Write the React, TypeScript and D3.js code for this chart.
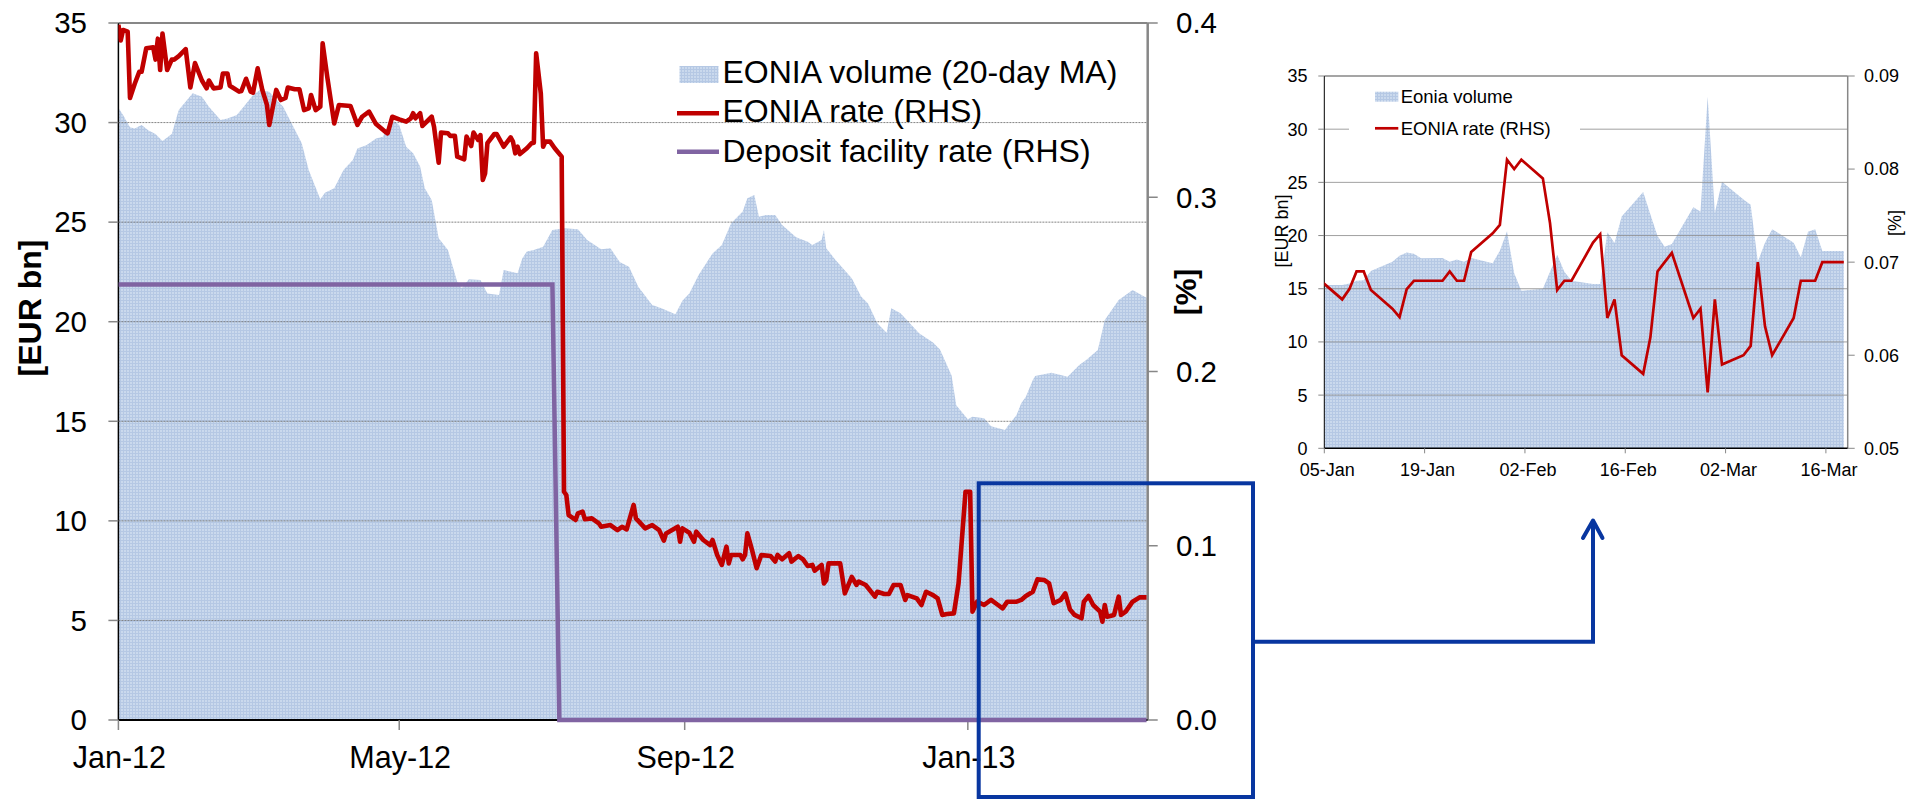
import React from "react";
import * as d3 from "d3";

// ---------- Main chart data ----------
const volumeMA: [string, number][] = [
  ["2012-01-01",30.75],["2012-01-03",30.38],["2012-01-06",29.76],["2012-01-08",29.7],["2012-01-11",29.88],["2012-01-14",29.6],["2012-01-17",29.43],["2012-01-20",29.07],["2012-01-24",29.43],["2012-01-27",30.63],["2012-02-02",31.47],["2012-02-06",31.3],["2012-02-09",30.8],["2012-02-14",30.13],["2012-02-17",30.2],["2012-02-21",30.38],["2012-02-24",30.8],["2012-02-28",31.38],["2012-03-02",31.64],["2012-03-06",31.55],["2012-03-12",30.8],["2012-03-16",29.88],["2012-03-20",28.96],["2012-03-23",27.62],["2012-03-28",26.15],["2012-03-30",26.48],["2012-04-03",26.7],["2012-04-07",27.62],["2012-04-11",28.12],["2012-04-13",28.7],["2012-04-17",28.87],["2012-04-21",29.2],["2012-04-24",29.29],["2012-04-26",29.8],["2012-04-29",30.05],["2012-05-01",29.88],["2012-05-04",28.79],["2012-05-07",28.46],["2012-05-10",27.79],["2012-05-12",26.7],["2012-05-15",26.11],["2012-05-18",24.19],["2012-05-22",23.6],["2012-05-26",22.0],["2012-05-28",21.68],["2012-05-31",22.13],["2012-06-05",22.1],["2012-06-08",21.42],["2012-06-13",21.34],["2012-06-15",22.6],["2012-06-21",22.43],["2012-06-23",23.18],["2012-06-25",23.52],["2012-06-28",23.6],["2012-07-02",23.77],["2012-07-06",24.6],["2012-07-11",24.69],["2012-07-17",24.64],["2012-07-21",24.1],["2012-07-27",23.64],["2012-07-31",23.69],["2012-08-04",23.0],["2012-08-08",22.76],["2012-08-12",21.76],["2012-08-18",20.84],["2012-08-22",20.67],["2012-08-28",20.37],["2012-08-31",21.05],["2012-09-03",21.42],["2012-09-07",22.35],["2012-09-13",23.43],["2012-09-17",23.85],["2012-09-21",24.94],["2012-09-26",25.53],["2012-09-28",26.2],["2012-10-01",26.36],["2012-10-03",25.27],["2012-10-06",25.36],["2012-10-10",25.36],["2012-10-13",24.86],["2012-10-19",24.24],["2012-10-24",24.02],["2012-10-26",23.85],["2012-10-30",24.1],["2012-10-31",24.6],["2012-11-01",23.69],["2012-11-05",23.1],["2012-11-12",22.18],["2012-11-16",21.26],["2012-11-19",20.92],["2012-11-23",19.92],["2012-11-27",19.45],["2012-11-29",20.67],["2012-12-03",20.42],["2012-12-07",19.92],["2012-12-11",19.42],["2012-12-17",18.95],["2012-12-20",18.6],["2012-12-25",17.3],["2012-12-27",15.8],["2013-01-01",15.1],["2013-01-03",15.23],["2013-01-08",15.15],["2013-01-11",14.75],["2013-01-17",14.56],["2013-01-18",14.73],["2013-01-22",15.32],["2013-01-24",15.9],["2013-01-26",16.23],["2013-01-29",17.07],["2013-01-30",17.27],["2013-02-06",17.44],["2013-02-10",17.32],["2013-02-13",17.24],["2013-02-18",17.83],["2013-02-21",18.08],["2013-02-26",18.58],["2013-03-01",20.09],["2013-03-04",20.59],["2013-03-07",21.09],["2013-03-13",21.59],["2013-03-18",21.26],["2013-03-19",21.2]
];

const eoniaRate: [string, number][] = [
  ["2012-01-01",0.399],["2012-01-02",0.390],["2012-01-03",0.396],["2012-01-05",0.395],["2012-01-06",0.357],["2012-01-08",0.365],["2012-01-10",0.372],["2012-01-11",0.372],["2012-01-13",0.3855],["2012-01-16",0.386],["2012-01-17",0.379],["2012-01-18",0.391],["2012-01-19",0.373],["2012-01-20",0.394],["2012-01-22",0.373],["2012-01-24",0.379],["2012-01-25",0.379],["2012-01-27",0.381],["2012-01-30",0.385],["2012-02-01",0.363],["2012-02-03",0.377],["2012-02-06",0.367],["2012-02-08",0.3625],["2012-02-09",0.367],["2012-02-11",0.3625],["2012-02-14",0.363],["2012-02-15",0.371],["2012-02-17",0.371],["2012-02-18",0.364],["2012-02-22",0.3606],["2012-02-23",0.361],["2012-02-25",0.368],["2012-02-27",0.3606],["2012-02-28",0.360],["2012-03-01",0.374],["2012-03-03",0.3616],["2012-03-05",0.353],["2012-03-06",0.3415],["2012-03-09",0.3616],["2012-03-11",0.3558],["2012-03-13",0.357],["2012-03-14",0.363],["2012-03-17",0.362],["2012-03-19",0.362],["2012-03-21",0.350],["2012-03-23",0.351],["2012-03-24",0.3587],["2012-03-26",0.350],["2012-03-28",0.352],["2012-03-29",0.3883],["2012-03-31",0.369],["2012-04-03",0.3424],["2012-04-05",0.3529],["2012-04-10",0.3524],["2012-04-13",0.3415],["2012-04-15",0.3462],["2012-04-18",0.3491],["2012-04-21",0.342],["2012-04-25",0.3376],["2012-04-26",0.3367],["2012-04-28",0.3462],["2012-05-01",0.3447],["2012-05-04",0.3434],["2012-05-06",0.3453],["2012-05-07",0.3482],["2012-05-08",0.3453],["2012-05-10",0.3482],["2012-05-11",0.3409],["2012-05-15",0.3462],["2012-05-16",0.3405],["2012-05-18",0.3198],["2012-05-19",0.3371],["2012-05-22",0.3367],["2012-05-23",0.3352],["2012-05-25",0.3352],["2012-05-26",0.3233],["2012-05-29",0.3218],["2012-05-30",0.3348],["2012-06-01",0.3294],["2012-06-02",0.3371],["2012-06-04",0.3329],["2012-06-05",0.3357],["2012-06-06",0.3099],["2012-06-07",0.3137],["2012-06-08",0.331],["2012-06-11",0.3363],["2012-06-12",0.3363],["2012-06-15",0.329],["2012-06-18",0.3344],["2012-06-19",0.3319],["2012-06-20",0.3252],["2012-06-21",0.329],["2012-06-22",0.3248],["2012-06-25",0.3281],["2012-06-27",0.331],["2012-06-28",0.3313],["2012-06-29",0.3826],["2012-07-01",0.3596],["2012-07-02",0.329],["2012-07-03",0.3319],["2012-07-05",0.3319],["2012-07-07",0.3281],["2012-07-10",0.3233],["2012-07-11",0.131],["2012-07-12",0.1291],["2012-07-13",0.1176],["2012-07-16",0.1148],["2012-07-17",0.1186],["2012-07-19",0.1196],["2012-07-20",0.1152],["2012-07-23",0.1157],["2012-07-26",0.1129],["2012-07-27",0.1109],["2012-07-31",0.1119],["2012-08-03",0.109],["2012-08-05",0.1109],["2012-08-07",0.1094],["2012-08-10",0.1234],["2012-08-11",0.1157],["2012-08-15",0.110],["2012-08-18",0.1119],["2012-08-21",0.109],["2012-08-23",0.1029],["2012-08-24",0.1071],["2012-08-29",0.1109],["2012-08-30",0.1023],["2012-08-31",0.110],["2012-09-03",0.1075],["2012-09-05",0.1023],["2012-09-06",0.1081],["2012-09-09",0.1033],["2012-09-12",0.1004],["2012-09-13",0.1033],["2012-09-15",0.0947],["2012-09-17",0.089],["2012-09-19",0.0995],["2012-09-20",0.0899],["2012-09-21",0.0947],["2012-09-25",0.0947],["2012-09-26",0.0922],["2012-09-27",0.0947],["2012-09-28",0.1071],["2012-09-30",0.0976],["2012-10-02",0.0871],["2012-10-04",0.0947],["2012-10-08",0.0941],["2012-10-10",0.0909],["2012-10-11",0.0947],["2012-10-13",0.0922],["2012-10-16",0.0957],["2012-10-17",0.0909],["2012-10-20",0.0941],["2012-10-22",0.0922],["2012-10-24",0.0884],["2012-10-26",0.089],["2012-10-27",0.0857],["2012-10-30",0.089],["2012-10-31",0.0784],["2012-11-01",0.0803],["2012-11-02",0.0899],["2012-11-05",0.0899],["2012-11-07",0.0899],["2012-11-09",0.0727],["2012-11-12",0.0822],["2012-11-14",0.0775],["2012-11-15",0.0794],["2012-11-18",0.0775],["2012-11-22",0.0708],["2012-11-23",0.0736],["2012-11-26",0.0723],["2012-11-28",0.0723],["2012-11-30",0.0775],["2012-12-03",0.0775],["2012-12-05",0.0689],["2012-12-06",0.0717],["2012-12-10",0.0698],["2012-12-12",0.066],["2012-12-14",0.0736],["2012-12-17",0.0717],["2012-12-19",0.0698],["2012-12-21",0.0603],["2012-12-23",0.0608],["2012-12-26",0.0612],["2012-12-28",0.0784],["2012-12-31",0.131],["2013-01-02",0.131],["2013-01-03",0.0622],["2013-01-05",0.0679],["2013-01-08",0.066],["2013-01-11",0.0689],["2013-01-14",0.066],["2013-01-16",0.0641],["2013-01-18",0.0679],["2013-01-22",0.0679],["2013-01-24",0.0689],["2013-01-26",0.0712],["2013-01-29",0.0736],["2013-01-31",0.0807],["2013-02-03",0.0803],["2013-02-05",0.0784],["2013-02-07",0.067],["2013-02-10",0.0689],["2013-02-12",0.0727],["2013-02-14",0.0635],["2013-02-16",0.0603],["2013-02-19",0.0584],["2013-02-20",0.0679],["2013-02-22",0.0712],["2013-02-24",0.066],["2013-02-27",0.0622],["2013-02-28",0.0564],["2013-03-01",0.066],["2013-03-02",0.0593],["2013-03-05",0.0603],["2013-03-07",0.0708],["2013-03-08",0.0603],["2013-03-10",0.0622],["2013-03-13",0.0679],["2013-03-16",0.0704],["2013-03-19",0.0704]
];

const depositRate: [string, number][] = [
  ["2012-01-01",0.25],["2012-07-06",0.25],["2012-07-09",0],["2013-03-19",0]
];

const leftTicks = [0, 5, 10, 15, 20, 25, 30, 35];
const rightTicks = [0, 0.1, 0.2, 0.3, 0.4];
const xTickDates = ["2012-01-01", "2012-05-01", "2012-09-01", "2013-01-01"];
const xTickLabels = ["Jan-12", "May-12", "Sep-12", "Jan-13"];
const legendLabels = ["EONIA volume (20-day MA)", "EONIA rate (RHS)", "Deposit facility rate (RHS)"];

// ---------- Inset data ----------
const insetDates = ["2013-01-04","2013-01-07","2013-01-08","2013-01-09","2013-01-10","2013-01-11","2013-01-14","2013-01-15","2013-01-16","2013-01-17","2013-01-18","2013-01-21","2013-01-22","2013-01-23","2013-01-24","2013-01-25","2013-01-28","2013-01-29","2013-01-30","2013-01-31","2013-02-01","2013-02-04","2013-02-05","2013-02-06","2013-02-07","2013-02-08","2013-02-11","2013-02-12","2013-02-13","2013-02-14","2013-02-15","2013-02-18","2013-02-19","2013-02-20","2013-02-21","2013-02-22","2013-02-25","2013-02-26","2013-02-27","2013-02-28","2013-03-01","2013-03-04","2013-03-05","2013-03-06","2013-03-07","2013-03-08","2013-03-11","2013-03-12","2013-03-13","2013-03-14","2013-03-15","2013-03-18"];
const insetRate = [0.068,0.066,0.0671,0.069,0.069,0.067,0.065,0.0641,0.0671,0.068,0.068,0.068,0.069,0.068,0.068,0.0711,0.0731,0.074,0.081,0.080,0.081,0.079,0.0742,0.067,0.068,0.068,0.0721,0.073,0.064,0.066,0.060,0.058,0.0619,0.069,0.070,0.071,0.064,0.065,0.056,0.066,0.059,0.060,0.061,0.070,0.0631,0.060,0.064,0.068,0.068,0.068,0.070,0.070];
const insetVolume = [15.35,15.35,15.5,15.75,15.8,16.67,17.54,18.1,18.4,18.3,17.86,17.9,17.54,17.76,17.54,17.9,17.4,18.58,20.4,16.45,14.8,15.0,16.6,18.2,16.6,15.75,15.45,15.45,20.3,19.3,21.8,24.1,22.0,19.96,18.95,19.2,22.65,22.25,33.05,22.15,25.06,23.4,22.9,17.54,19.33,20.6,19.33,17.95,20.36,20.6,18.55,18.55];
const insetLeftTicks = [0, 5, 10, 15, 20, 25, 30, 35];
const insetRightTicks = [0.05, 0.06, 0.07, 0.08, 0.09];
const insetTickDates = ["2013-01-05", "2013-01-19", "2013-02-02", "2013-02-16", "2013-03-02", "2013-03-16"];
const insetTickLabels = ["05-Jan", "19-Jan", "02-Feb", "16-Feb", "02-Mar", "16-Mar"];
const insetLegendLabels = ["Eonia volume", "EONIA rate (RHS)"];

const FONT = "'Liberation Sans', Arial, Helvetica, sans-serif";
const RED = "#C00000";
const PURPLE = "#8064A2";
const BLUE = "#0836A0";
const AXGRAY = "#878787";

type P = { date: Date; v: number };
const parse = d3.timeParse("%Y-%m-%d");

export default function App() {
  // main scales
  const x = d3.scaleTime().domain([new Date(2012, 0, 1), new Date(2013, 2, 19, 12)]).range([118.4, 1147.7]);
  const yL = d3.scaleLinear().domain([0, 35]).range([720, 23]);
  const yR = d3.scaleLinear().domain([0, 0.4]).range([720, 23]);
  const X0 = x.range()[0], X1 = x.range()[1];
  const Y0 = yL(0), Y1 = yL(35);

  const vol: P[] = volumeMA.map(([d, v]) => ({ date: parse(d)!, v }));
  const rate: P[] = eoniaRate.map(([d, v]) => ({ date: parse(d)!, v }));
  const dep: P[] = depositRate.map(([d, v]) => ({ date: parse(d)!, v }));

  const areaMain = d3.area<P>().x(d => x(d.date)).y0(Y0).y1(d => yL(d.v))(vol) || "";
  const lineR = d3.line<P>().x(d => x(d.date)).y(d => yR(d.v));

  // inset scales
  const i0 = new Date(2013, 0, 5);
  const ix = d3.scaleTime().domain([i0, d3.timeHour.offset(i0, Math.round(73.06 * 24))]).range([1324.3, 1847.7]);
  const iyL = d3.scaleLinear().domain([0, 35]).range([448.3, 76]);
  const iyR = d3.scaleLinear().domain([0.05, 0.09]).range([448.3, 76]);
  const IX0 = ix.range()[0], IX1 = ix.range()[1];
  const IY0 = iyL(0), IY1 = iyL(35);
  const mid = (s: string) => d3.timeHour.offset(parse(s)!, 12);
  const iVol: P[] = insetDates.map((d, i) => ({ date: mid(d), v: insetVolume[i] }));
  const iRate: P[] = insetDates.map((d, i) => ({ date: mid(d), v: insetRate[i] }));
  const areaInset = d3.area<P>().x(d => ix(d.date)).y0(IY0).y1(d => iyL(d.v))(iVol) || "";
  const lineInset = d3.line<P>().x(d => ix(d.date)).y(d => iyR(d.v))(iRate) || "";

  const f1 = d3.format(".1f");
  const f2 = d3.format(".2f");

  return (
    <svg width={1923} height={800} style={{ position: "absolute", left: 0, top: 0, background: "#fff", display: "block" }} fontFamily={FONT}>
      <defs>
        <pattern id="volPat" width="3" height="3" patternUnits="userSpaceOnUse">
          <rect width="3" height="3" fill="#CAD9ED" />
          <path d="M0 0.5H3M0.5 0V3" stroke="#B5C8E4" strokeWidth="1" />
        </pattern>
        <clipPath id="mainClip"><rect x={X0} y={Y1 - 3} width={X1 - X0} height={Y0 - Y1 + 6} /></clipPath>
        <clipPath id="insetClip"><rect x={IX0} y={IY1} width={IX1 - IX0} height={IY0 - IY1} /></clipPath>
      </defs>

      {/* ================= MAIN CHART ================= */}
      <path d={areaMain} fill="url(#volPat)" />
      {leftTicks.filter(t => t > 0 && t < 35).map(t => (
        <line key={"g" + t} x1={X0} x2={X1} y1={yL(t)} y2={yL(t)} stroke="#6f6f6f" strokeWidth={1} strokeDasharray="2 1" opacity={0.85} />
      ))}
      <line x1={X0} x2={X1} y1={Y1} y2={Y1} stroke={AXGRAY} strokeWidth={2} />
      <line x1={X1} x2={X1} y1={Y1} y2={Y0} stroke={AXGRAY} strokeWidth={2.5} />
      <line x1={X0} x2={X0} y1={Y1} y2={Y0} stroke="#000" strokeWidth={1.5} />
      <line x1={X0} x2={X1} y1={Y0} y2={Y0} stroke="#000" strokeWidth={2} />

      {leftTicks.map(t => (
        <g key={"lt" + t}>
          <line x1={X0 - 10} x2={X0} y1={yL(t)} y2={yL(t)} stroke={AXGRAY} strokeWidth={1.5} />
          <text x={87} y={yL(t) + 10.3} fontSize={29.5} textAnchor="end" fill="#000">{t}</text>
        </g>
      ))}
      {rightTicks.map(t => (
        <g key={"rt" + t}>
          <line x1={X1} x2={X1 + 10} y1={yR(t)} y2={yR(t)} stroke={AXGRAY} strokeWidth={1.5} />
          <text x={1176} y={yR(t) + 10.3} fontSize={29.5} textAnchor="start" fill="#000">{f1(t)}</text>
        </g>
      ))}
      {xTickDates.map((d, i) => (
        <g key={"xt" + d}>
          <line x1={x(parse(d)!)} x2={x(parse(d)!)} y1={Y0} y2={Y0 + 10} stroke={AXGRAY} strokeWidth={1.5} />
          <text x={x(parse(d)!) + 1} y={768} fontSize={30.5} textAnchor="middle" fill="#000">{xTickLabels[i]}</text>
        </g>
      ))}
      <text transform="translate(40.5,308) rotate(-90)" fontSize={32} fontWeight="bold" textAnchor="middle">[EUR bn]</text>
      <text transform="translate(1196,292) rotate(-90)" fontSize={30} fontWeight="bold" textAnchor="middle">[%]</text>

      <g clipPath="url(#mainClip)">
        <path d={lineR(dep) || ""} fill="none" stroke={PURPLE} strokeWidth={4.5} strokeLinejoin="miter" />
        <path d={lineR(rate) || ""} fill="none" stroke={RED} strokeWidth={4.6} strokeLinejoin="round" />
      </g>

      {/* legend */}
      <rect x={679.5} y={66} width={39} height={17} fill="url(#volPat)" />
      <line x1={677} x2={719} y1={113.3} y2={113.3} stroke={RED} strokeWidth={4.5} />
      <line x1={677} x2={719} y1={151.7} y2={151.7} stroke={PURPLE} strokeWidth={4.5} />
      <text x={722.5} y={83.3} fontSize={32}>{legendLabels[0]}</text>
      <text x={722.5} y={122.3} fontSize={32}>{legendLabels[1]}</text>
      <text x={722.5} y={161.5} fontSize={32}>{legendLabels[2]}</text>

      {/* zoom box & arrow */}
      <rect x={978.7} y={483.3} width={274.3} height={313.7} fill="none" stroke={BLUE} strokeWidth={4} />
      <path d="M1253 641.7 H1593 V521" fill="none" stroke={BLUE} strokeWidth={4} />
      <path d="M1583 538 L1593 520.5 L1602.5 538" fill="none" stroke={BLUE} strokeWidth={4} strokeLinecap="round" strokeLinejoin="round" />

      {/* ================= INSET ================= */}
      <path d={areaInset} fill="url(#volPat)" clipPath="url(#insetClip)" />
      {insetLeftTicks.filter(t => t > 0 && t < 35).map(t => (
        <line key={"ig" + t} x1={IX0} x2={IX1} y1={iyL(t)} y2={iyL(t)} stroke="#8a8a8a" strokeWidth={1} opacity={0.8} />
      ))}
      <line x1={IX0} x2={IX1} y1={IY1} y2={IY1} stroke={AXGRAY} strokeWidth={1.5} />
      <line x1={IX1} x2={IX1} y1={IY1} y2={IY0} stroke={AXGRAY} strokeWidth={1.5} />
      <line x1={IX0} x2={IX0} y1={IY1} y2={IY0} stroke="#000" strokeWidth={1} />
      <line x1={IX0} x2={IX1} y1={IY0} y2={IY0} stroke="#000" strokeWidth={1.5} />

      {insetLeftTicks.map(t => (
        <g key={"ilt" + t}>
          <line x1={IX0 - 6} x2={IX0} y1={iyL(t)} y2={iyL(t)} stroke={AXGRAY} strokeWidth={1} />
          <text x={1307.5} y={iyL(t) + 6.4} fontSize={18} textAnchor="end">{t}</text>
        </g>
      ))}
      {insetRightTicks.map(t => (
        <g key={"irt" + t}>
          <line x1={IX1} x2={IX1 + 7} y1={iyR(t)} y2={iyR(t)} stroke={AXGRAY} strokeWidth={1} />
          <text x={1864} y={iyR(t) + 6.4} fontSize={18} textAnchor="start">{f2(t)}</text>
        </g>
      ))}
      {insetTickDates.map((d, i) => (
        <g key={"ixt" + d}>
          <line x1={ix(parse(d)!)} x2={ix(parse(d)!)} y1={IY0} y2={IY0 + 5} stroke={AXGRAY} strokeWidth={1} />
          <text x={ix(parse(d)!) + 3} y={476} fontSize={18} textAnchor="middle">{insetTickLabels[i]}</text>
        </g>
      ))}
      <text transform="translate(1287.5,231) rotate(-90)" fontSize={18} textAnchor="middle">[EUR bn]</text>
      <text transform="translate(1901,223) rotate(-90)" fontSize={18} textAnchor="middle">[%]</text>

      <path d={lineInset} fill="none" stroke={RED} strokeWidth={2.7} strokeLinejoin="miter" clipPath="url(#insetClip)" />

      <rect x={1349} y={83} width={231} height={60} fill="#fff" />
      <rect x={1375} y={91.7} width={23.3} height={10} fill="url(#volPat)" />
      <line x1={1375} x2={1398.3} y1={128.3} y2={128.3} stroke={RED} strokeWidth={2.7} />
      <text x={1400.7} y={102.7} fontSize={18.5}>{insetLegendLabels[0]}</text>
      <text x={1400.7} y={135} fontSize={18.5}>{insetLegendLabels[1]}</text>
    </svg>
  );
}
